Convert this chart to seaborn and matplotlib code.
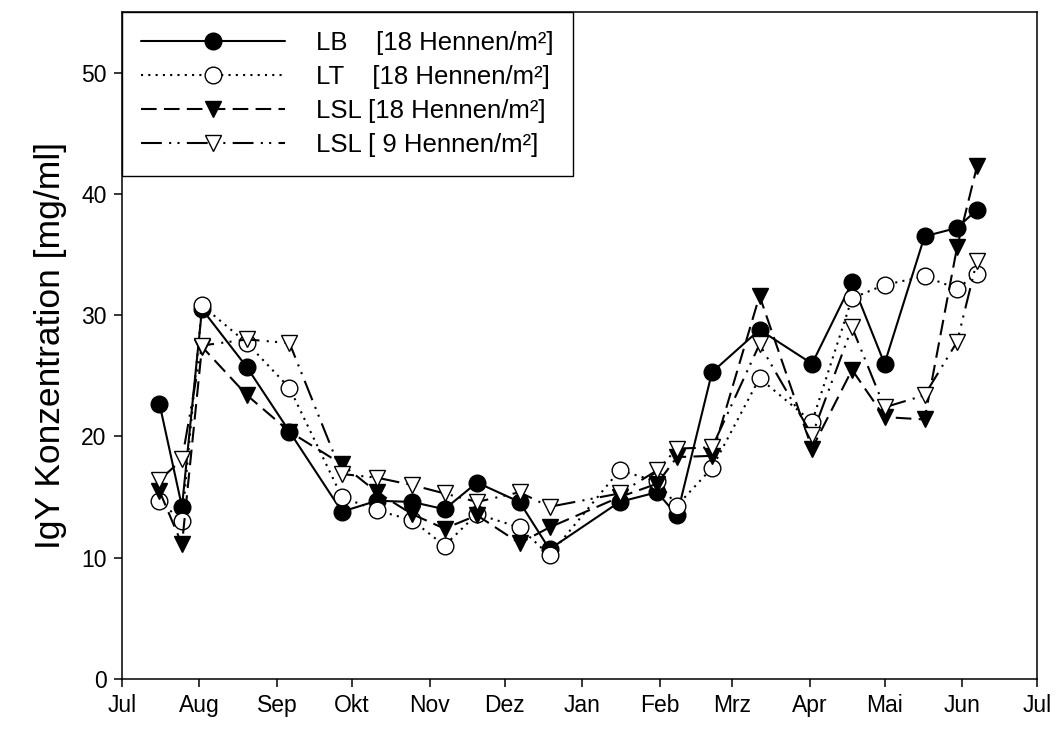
"""
IgY-Konzentration im Eidotter über ein Legejahr, vier Gruppen.
Nachbau der SigmaPlot-Abbildung mit seaborn.
"""

import matplotlib

matplotlib.use("Agg")

import matplotlib.pyplot as plt
import pandas as pd
import seaborn as sns

# --------------------------------------------------------------------------- #
# Daten
# --------------------------------------------------------------------------- #
DATES = [
    "2007-07-16", "2007-07-25", "2007-08-02", "2007-08-20", "2007-09-06",
    "2007-09-27", "2007-10-11", "2007-10-25", "2007-11-07", "2007-11-20",
    "2007-12-07", "2007-12-19", "2008-01-16", "2008-01-31", "2008-02-08",
    "2008-02-22", "2008-03-12", "2008-04-02", "2008-04-18", "2008-05-01",
    "2008-05-17", "2008-05-30", "2008-06-07",
]

LB_18 = [22.7, 14.2, 30.5, 25.7, 20.4, 13.8, 14.7, 14.6, 14.0, 16.2, 14.6, 10.7,
         14.6, 15.4, 13.5, 25.3, 28.8, 26.0, 32.7, 26.0, 36.5, 37.2, 38.7]
LT_18 = [14.7, 13.0, 30.8, 27.7, 24.0, 15.0, 13.9, 13.1, 11.0, 13.6, 12.5, 10.2,
         17.2, 16.3, 14.3, 17.4, 24.8, 21.2, 31.4, 32.5, 33.2, 32.2, 33.4]
LSL_18 = [15.5, 11.1, 27.4, 23.4, 20.4, 17.7, 15.4, 13.6, 12.4, 13.5, 11.2, 12.5,
          15.0, 16.1, 18.3, 18.4, 31.6, 19.0, 25.5, 21.6, 21.4, 35.6, 42.3]
LSL_9 = [16.4, 18.1, 27.5, 28.0, 27.7, 16.9, 16.6, 16.0, 15.3, 14.6, 15.4, 14.2,
         15.3, 17.2, 19.0, 19.1, 27.6, 20.1, 29.0, 22.4, 23.4, 27.8, 34.5]

LABELS = [
    "LB    [18 Hennen/m²]",
    "LT    [18 Hennen/m²]",
    "LSL [18 Hennen/m²]",
    "LSL [ 9 Hennen/m²]",
]

MONTH_LABELS = ["Jul", "Aug", "Sep", "Okt", "Nov", "Dez", "Jan",
                "Feb", "Mrz", "Apr", "Mai", "Jun", "Jul"]

# Stil je Gruppe: Marker, Füllung, Linienart
STYLES = [
    dict(marker="o", markerfacecolor="black", linestyle="-"),
    dict(marker="o", markerfacecolor="white", linestyle=(0, (1, 2.5))),
    dict(marker="v", markerfacecolor="black", linestyle=(0, (7.5, 3.5))),
    dict(marker="v", markerfacecolor="white", linestyle=(0, (10, 3.5, 1, 3, 1, 3.5))),
]

# --------------------------------------------------------------------------- #
# Plot
# --------------------------------------------------------------------------- #
sns.set_style("ticks")
plt.rcParams["font.family"] = ["Liberation Sans", "DejaVu Sans"]
plt.rcParams["text.color"] = "black"
plt.rcParams["axes.labelcolor"] = "black"

fig = plt.figure(figsize=(10.58, 7.29), dpi=100)
ax = fig.add_axes([0.1153, 0.0686, 0.8649, 0.9149])

dates = pd.to_datetime(DATES)
for values, label, style in zip([LB_18, LT_18, LSL_18, LSL_9], LABELS, STYLES):
    df = pd.DataFrame({"Datum": dates, "IgY": values})
    sns.lineplot(
        data=df,
        x="Datum",
        y="IgY",
        color="black",
        linewidth=1.5,
        markersize=12,
        markeredgecolor="black",
        markeredgewidth=1.0,
        errorbar=None,
        label=label,
        ax=ax,
        **style,
    )

month_starts = pd.date_range("2007-07-01", "2008-07-01", freq="MS")
ax.set_xlim(month_starts[0], month_starts[-1])
ax.set_xticks(month_starts)
ax.set_xticklabels(MONTH_LABELS)

ax.set_ylim(0, 55)
ax.set_yticks([0, 10, 20, 30, 40, 50])

ax.set_xlabel("")
ax.set_ylabel("IgY Konzentration [mg/ml]", fontsize=25.5, labelpad=10, color="black")

ax.tick_params(direction="out", length=6, width=1.1, pad=5,
               labelsize=16.5, colors="black")
for spine in ax.spines.values():
    spine.set_visible(True)
    spine.set_linewidth(1.1)
    spine.set_color("black")

leg = ax.legend(
    loc="upper left",
    borderaxespad=0,
    fancybox=False,
    framealpha=1,
    edgecolor="black",
    fontsize=18.5,
    handlelength=5.6,
    handletextpad=1.2,
    borderpad=0.75,
    labelspacing=0.38,
)
leg.get_frame().set_linewidth(1.0)
for txt in leg.get_texts():
    txt.set_color("black")

fig.savefig("out.png", dpi=100)
plt.close(fig)
